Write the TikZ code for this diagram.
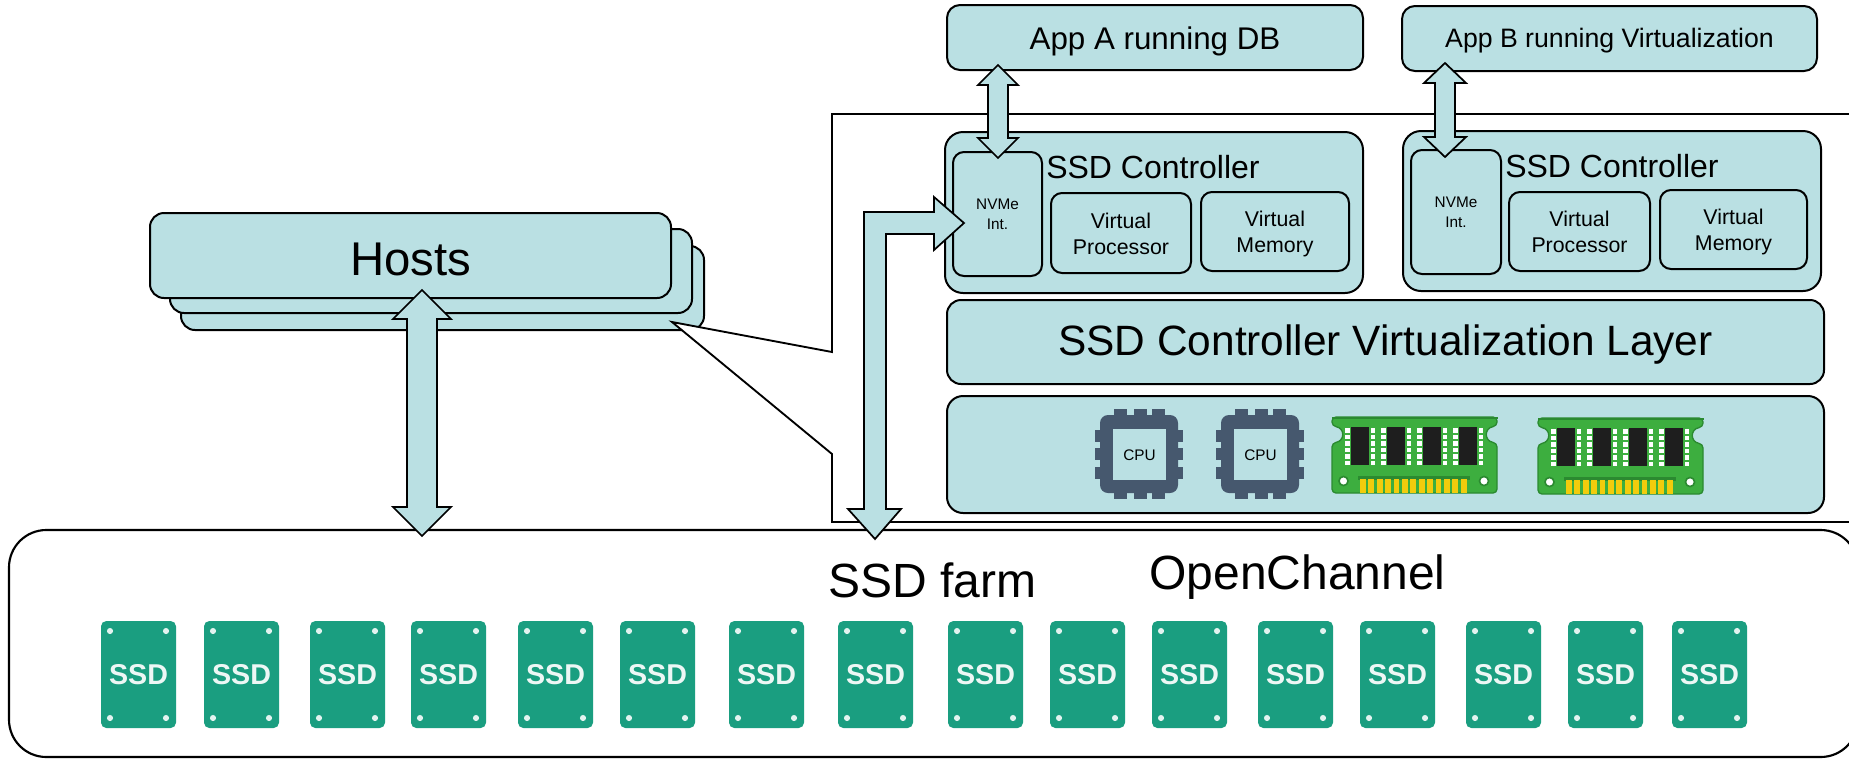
\documentclass[tikz,border=0pt]{standalone}
\usepackage{fontspec}
\setmainfont{Liberation Sans}
\usetikzlibrary{calc}
\definecolor{lb}{HTML}{BAE0E3}
\definecolor{ssdg}{HTML}{1A9E80}
\definecolor{cpug}{HTML}{46586E}
\definecolor{ramg}{HTML}{3DAE3F}
\definecolor{ramd}{HTML}{2B8A30}
\definecolor{ramy}{HTML}{F2CC0C}
\definecolor{ramk}{HTML}{1E1E1E}
\tikzset{
  bx/.style={draw=black,fill=lb,line width=1.5pt,inner sep=0pt},
  bxtext/.style={inner sep=0pt,align=center,text=black},
  farmbox/.style={draw=black,fill=white,line width=1.6pt,rounded corners=28pt},
  framebox/.style={draw=black,fill=white,line width=1.4pt,line join=miter},
  blockarrow/.style={draw=black,fill=lb,line width=1.3pt,line join=miter},
  free/.style={inner sep=0pt,anchor=base west,text=black},
  ssdbox/.style={fill=ssdg,rounded corners=4pt,inner sep=0pt,minimum width=56.25pt,minimum height=80.25pt,
    text=white!92!ssdg,font=\bfseries\fontsize{21.5}{24}\selectfont},
  cputext/.style={inner sep=0pt,text=black,font=\fontsize{11.5}{14}\selectfont},
}
% name, x1, y1, x2, y2, radius(px), font, text, text drop(px)
\newcommand\rbox[9]{%
  \pgfmathsetlengthmacro{\rw}{(#4-#2)*0.75pt}%
  \pgfmathsetlengthmacro{\rh}{(#5-#3)*0.75pt}%
  \pgfmathsetlengthmacro{\rr}{#6*0.75pt}%
  \node[bx,rounded corners=\rr,minimum width=\rw,minimum height=\rh] (#1) at ({(#2+#4)/2},{(#3+#5)/2}) {};
  \node[bxtext,font=#7] (#1t) at ({(#2+#4)/2},{(#3+#5)/2+#9}) {#8};}
% vertical double block arrow: top, bottom, head half width, shaft half width, head length
\newcommand\vblock[5]{%
  \draw[blockarrow] let \p1=(#1),\p2=(#2) in
    (\x1,\y1) -- (\x1+#3*0.75pt,\y1-#5*0.75pt) -- (\x1+#4*0.75pt,\y1-#5*0.75pt)
    -- (\x1+#4*0.75pt,\y2+#5*0.75pt) -- (\x1+#3*0.75pt,\y2+#5*0.75pt) -- (\x2,\y2)
    -- (\x1-#3*0.75pt,\y2+#5*0.75pt) -- (\x1-#4*0.75pt,\y2+#5*0.75pt)
    -- (\x1-#4*0.75pt,\y1-#5*0.75pt) -- (\x1-#3*0.75pt,\y1-#5*0.75pt) -- cycle;}
\newcommand\cpuchip[3]{%
  \begin{scope}[shift={(#1,#2)}]
    \fill[cpug,rounded corners=6pt] (0,0) rectangle (78,78);
    \fill[lb] (12.5,14) rectangle (66,65);
    \foreach \q in {14,33.5,52}{\fill[cpug] (\q,-6) rectangle ++(13,7); \fill[cpug] (\q,77) rectangle ++(13,7);}
    \foreach \q in {15,33,52}{\fill[cpug] (-5,\q) rectangle ++(6,12); \fill[cpug] (77,\q) rectangle ++(6,12);}
    \node[cputext] (#3) at (39.5,40) {CPU};
  \end{scope}}
\newcommand\ramchip[2]{%
  \begin{scope}[shift={(#1,#2)}]
    \filldraw[fill=ramg,draw=ramd,line width=1pt,rounded corners=3pt]
      (1,0) -- (166,0) -- (166,9) .. controls (153,11) and (153,24) .. (166,26) -- (166,76)
      -- (1,76) -- (1,26) .. controls (14,24) and (14,11) .. (1,9) -- cycle;
    \fill[ramd] (0.5,0) rectangle (166.5,2);
    \fill[ramd] (27,58.5) rectangle (139,63);
    \foreach \c in {20,56,92,128}{
      \fill[ramk] (\c,10) rectangle ++(18,38);
      \foreach \r in {11,17.5,24,30.5,37,43.5}{
        \fill[white] (\c-6,\r) rectangle ++(4.5,4.5);
        \fill[white] (\c+19.5,\r) rectangle ++(4.5,4.5);}
    }
    \foreach \t in {0,...,12}{\fill[ramy] ({29+\t*8.4},62) rectangle ++(5.8,14);}
    \foreach \h in {12.5,153}{\filldraw[fill=white,draw=ramd,line width=1.2pt] (\h,64) circle[radius=3.4pt];}
  \end{scope}}
\begin{document}
\begin{tikzpicture}[x=0.75pt,y=-0.75pt]
\path[use as bounding box] (0,0) rectangle (1849,758);
\clip (0,0) rectangle (1849,758);

% Hosts stack
\rbox{hostC}{181}{246}{704}{330}{14}{\normalsize}{}{0}
\rbox{hostB}{170}{229}{692}{313}{14}{\normalsize}{}{0}
\rbox{hostA}{150}{213}{671}{298}{14}{\fontsize{35.5}{40}\selectfont}{Hosts}{3.5}

% SSD farm
\draw[farmbox] (9,530) rectangle (1858,757);

% Frame with call-out towards the hosts
\coordinate (frTL) at (832,114);
\coordinate (frC1) at (832,352);
\coordinate (frTip) at (672,322);
\coordinate (frC2) at (832,454);
\coordinate (frBL) at (832,522);
\draw[framebox] (1860,114) -- (frTL) -- (frC1) -- (frTip) -- (frC2) -- (frBL) -- (1860,522);

% Applications
\rbox{appA}{947}{5}{1363}{70}{13}{\fontsize{23.5}{28}\selectfont}{App A running DB}{3.5}
\rbox{appB}{1402}{6}{1817}{71}{13}{\fontsize{20}{24}\selectfont}{App B running Virtualization}{2.5}

% Controllers
\rbox{ctlA}{945}{132}{1363}{293}{18}{\normalsize}{}{0}
\rbox{nvA}{953}{152}{1042}{276}{11}{\fontsize{11.5}{15}\selectfont}{NVMe\\Int.}{0}
\rbox{vpA}{1051}{193}{1191}{273}{11}{\fontsize{16}{19.5}\selectfont}{Virtual\\Processor}{1}
\rbox{vmA}{1201}{192}{1349}{271}{11}{\fontsize{16}{19.5}\selectfont}{Virtual\\Memory}{2}
\node[free,font=\fontsize{24}{28}\selectfont] (ctlAt) at (1046,178) {SSD Controller};

\rbox{ctlB}{1403}{131}{1821}{291}{18}{\normalsize}{}{0}
\rbox{nvB}{1411}{150}{1501}{274}{11}{\fontsize{11.5}{15}\selectfont}{NVMe\\Int.}{0}
\rbox{vpB}{1509}{192}{1650}{271}{11}{\fontsize{16}{19.5}\selectfont}{Virtual\\Processor}{0}
\rbox{vmB}{1660}{190}{1807}{269}{11}{\fontsize{16}{19.5}\selectfont}{Virtual\\Memory}{2}
\node[free,font=\fontsize{24}{28}\selectfont] (ctlBt) at (1505,177) {SSD Controller};

% Layers
\rbox{virt}{947}{300}{1824}{384}{14}{\fontsize{31.8}{38}\selectfont}{SSD Controller Virtualization Layer}{2.5}
\rbox{hw}{947}{396}{1824}{513}{16}{\normalsize}{}{0}
\cpuchip{1100}{415}{cpuA}
\cpuchip{1221}{415}{cpuB}
\ramchip{1331}{417}
\ramchip{1537}{418}

% Farm labels
\node[free,font=\fontsize{36}{40}\selectfont] (farm) at (828,597) {SSD farm};
\node[free,font=\fontsize{36}{40}\selectfont] (oc) at (1149,589) {OpenChannel};

% SSDs
\foreach \sx [count=\k] in {101,204,310,411,518,620,729,838,948,1050,1152,1258,1360,1466,1568,1672}{
  \node[ssdbox] (ssd\k) at (\sx+37.5,674.5) {SSD};
  \foreach \dx/\dy in {9/10,65/10,9/97,65/97}{\fill[white!88!ssdg] (\sx+\dx,621+\dy) circle[radius=2.3pt];}
}

% Block arrows
\coordinate (aT) at (998,65);  \coordinate (aB) at (998,158);
\coordinate (bT) at (1445,63); \coordinate (bB) at (1445,157);
\coordinate (hT) at (422,290); \coordinate (hB) at (422,536);
\vblock{aT}{aB}{20}{10}{20}
\vblock{bT}{bB}{21}{10}{20}
\vblock{hT}{hB}{29}{15}{29}
\coordinate (fT) at (964,223); \coordinate (fB) at (875,539);
\draw[blockarrow] let \p1=(fT),\p2=(fB) in
  (\x1,\y1) -- (\x1-30*0.75pt,\y1+26*0.75pt) -- (\x1-30*0.75pt,\y1+11*0.75pt)
  -- (\x2-11*0.75pt,\y1+11*0.75pt) -- (\x2-11*0.75pt,\y2+30*0.75pt) -- (\x2-27*0.75pt,\y2+30*0.75pt)
  -- (\x2,\y2) -- (\x2+26*0.75pt,\y2+30*0.75pt) -- (\x2+11*0.75pt,\y2+30*0.75pt)
  -- (\x2+11*0.75pt,\y1-11*0.75pt) -- (\x1-30*0.75pt,\y1-11*0.75pt) -- (\x1-30*0.75pt,\y1-27*0.75pt) -- cycle;
\end{tikzpicture}
\end{document}
